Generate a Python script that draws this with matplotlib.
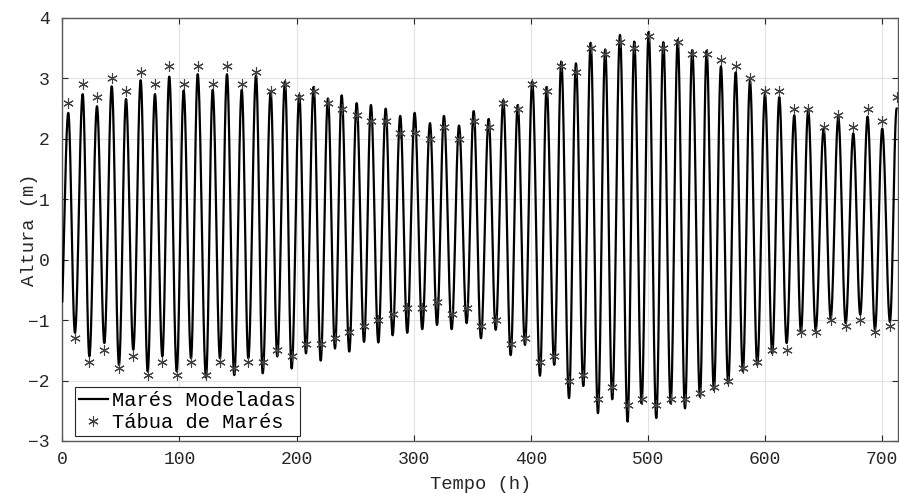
import numpy as np
import matplotlib.pyplot as plt

# high / low water times (h)
hw_time = [5.1, 17.4, 29.6, 42.2, 54.4, 66.9, 79.1, 91.3, 103.6, 115.6,
           128.4, 140.6, 153.2, 165.4, 177.9, 190.1, 202.3, 214.6, 226.8, 238.5,
           251.3, 263.5, 276.1, 288.5, 300.8, 313.9, 325.8, 338.7, 351.2, 364.0,
           376.5, 388.8, 401.2, 413.5, 426.0, 438.5, 451.1, 463.5, 476.1, 488.3,
           500.6, 513.1, 525.4, 537.8, 550.1, 562.3, 574.9, 587.1, 599.9, 612.1,
           624.9, 636.8, 650.0, 662.5, 675.3, 687.5, 700.0, 712.3]
lw_time = [10.8, 23.1, 35.9, 48.4, 60.6, 72.9, 85.4, 97.7, 109.9,
           122.7, 134.6, 146.8, 158.8, 171.1, 183.5, 195.8, 208.0, 220.6, 232.8,
           245.0, 257.6, 269.8, 282.0, 294.5, 307.3, 319.9, 332.4, 345.2,
           357.4, 370.0, 382.8, 395.0, 407.8, 420.0, 432.6, 444.8, 457.3, 469.5,
           482.6, 494.6, 507.1, 519.4, 531.6, 544.4, 556.3, 568.5, 581.0, 593.3,
           606.1, 618.4, 630.6, 643.2, 656.0, 668.8, 681.2, 693.8, 706.6]

# tide table (Tábua de Marés)
hw_table = [2.6, 2.9, 2.7, 3.0, 2.8, 3.1, 2.9, 3.2, 2.9, 3.2,
            2.9, 3.2, 2.9, 3.1, 2.8, 2.9, 2.7, 2.8, 2.6, 2.5,
            2.4, 2.3, 2.3, 2.1, 2.1, 2.0, 2.2, 2.0, 2.3, 2.2,
            2.6, 2.5, 2.9, 2.8, 3.2, 3.1, 3.5, 3.4, 3.6, 3.5,
            3.7, 3.5, 3.6, 3.4, 3.4, 3.3, 3.2, 3.0, 2.8, 2.8,
            2.5, 2.5, 2.2, 2.4, 2.2, 2.5, 2.3, 2.7]
lw_table = [-1.3, -1.7, -1.5, -1.8, -1.6, -1.9, -1.7, -1.9, -1.7,
            -1.9, -1.7, -1.8, -1.7, -1.7, -1.5, -1.6, -1.4, -1.4, -1.3,
            -1.2, -1.1, -1.0, -0.9, -0.8, -0.8, -0.7, -0.9, -0.8,
            -1.1, -1.0, -1.4, -1.3, -1.7, -1.6, -2.0, -1.9, -2.3, -2.1,
            -2.4, -2.3, -2.4, -2.3, -2.3, -2.2, -2.1, -2.0, -1.8, -1.7,
            -1.5, -1.5, -1.2, -1.2, -1.0, -1.1, -1.0, -1.2, -1.1]

# modelled curve extremes (Marés Modeladas)
hw_model = [2.43, 2.74, 2.54, 2.87, 2.66, 2.97, 2.74, 3.03, 2.80, 3.07,
            2.81, 3.07, 2.81, 3.05, 2.78, 2.95, 2.73, 2.86, 2.67, 2.72,
            2.59, 2.56, 2.50, 2.38, 2.43, 2.26, 2.38, 2.22, 2.46, 2.33,
            2.64, 2.56, 2.95, 2.86, 3.28, 3.25, 3.59, 3.48, 3.72, 3.61,
            3.77, 3.60, 3.64, 3.47, 3.46, 3.20, 3.10, 2.96, 2.74, 2.69,
            2.39, 2.48, 2.17, 2.36, 2.09, 2.37, 2.17, 2.50]
lw_model = [-1.21, -1.60, -1.38, -1.74, -1.49, -1.85, -1.60, -1.85, -1.63,
            -1.95, -1.63, -1.91, -1.63, -1.88, -1.60, -1.80, -1.55, -1.67, -1.47,
            -1.52, -1.36, -1.37, -1.25, -1.21, -1.15, -1.08, -1.15, -1.05,
            -1.30, -1.16, -1.58, -1.41, -1.92, -1.74, -2.29, -2.09, -2.54, -2.31,
            -2.68, -2.38, -2.62, -2.38, -2.46, -2.27, -2.16, -2.05, -1.85, -1.74,
            -1.55, -1.38, -1.20, -1.16, -0.97, -1.05, -0.91, -1.16, -1.03]
# low water just before t = 0
start_low_time = -1.6
start_low_model = -1.15


def tide_curve(times, heights, n=30):
    # cosine half-waves between successive high and low waters
    t_out, y_out = [], []
    s = np.linspace(0, 1, n, endpoint=False)
    for i in range(len(times) - 1):
        t_out.append(times[i] + s * (times[i + 1] - times[i]))
        y_out.append(heights[i] + (heights[i + 1] - heights[i]) * (1 - np.cos(np.pi * s)) / 2)
    t_out.append([times[-1]])
    y_out.append([heights[-1]])
    return np.concatenate(t_out), np.concatenate(y_out)


ext_t = [start_low_time]
ext_h = [start_low_model]
for i in range(len(hw_time)):
    ext_t.append(hw_time[i])
    ext_h.append(hw_model[i])
    if i < len(lw_time):
        ext_t.append(lw_time[i])
        ext_h.append(lw_model[i])
t_model, h_model = tide_curve(ext_t, ext_h)

plt.rcParams['font.family'] = ['Liberation Mono', 'DejaVu Sans Mono']

fig = plt.figure(figsize=(8.99, 4.93), dpi=100)
ax = fig.add_axes([0.0693, 0.1055, 0.9299, 0.858])

ax.plot(t_model, h_model, color='black', lw=1.6, label='Marés Modeladas', zorder=3)
ax.plot(hw_time + lw_time, hw_table + lw_table, linestyle='none', marker=(6, 2, 0),
        markersize=7.5, markeredgewidth=0.8, color='0.25', label='Tábua de Marés', zorder=4)

ax.set_xlim(0, 713.7)
ax.set_ylim(-3, 4)
ax.set_xticks(range(0, 701, 100))
ax.set_yticks(range(-3, 5))
ax.grid(True, color='0.89', lw=0.8)
ax.set_axisbelow(True)
ax.tick_params(direction='in', top=True, right=True, length=4, width=0.8,
               labelsize=13, colors='0.15', pad=7)
ax.tick_params(axis='y', pad=9)
for sp in ax.spines.values():
    sp.set_color('0.35')
    sp.set_linewidth(1.0)

ax.set_xlabel('Tempo (h)', fontsize=13.5, color='0.15', labelpad=6)
ax.set_ylabel('Altura (m)', fontsize=13.5, color='0.15', labelpad=-7)

leg = ax.legend(loc='lower left', bbox_to_anchor=(0.0152, 0.0118), fontsize=14.7,
                handlelength=1.4, handletextpad=0.2, borderaxespad=0,
                borderpad=0.2, labelspacing=0.15, fancybox=False, framealpha=1)
leg.get_frame().set_edgecolor('0.15')
leg.get_frame().set_linewidth(0.8)

fig.savefig('out.png', dpi=100)
